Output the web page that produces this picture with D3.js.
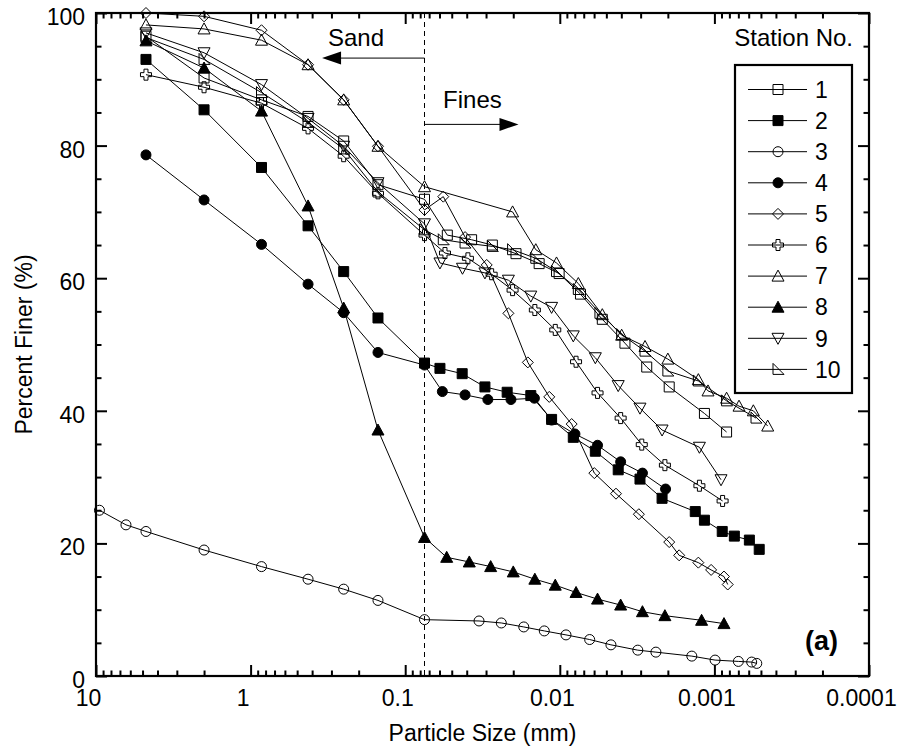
<!DOCTYPE html>
<html>
<head>
<meta charset="utf-8">
<script src="https://cdn.jsdelivr.net/npm/d3@7"></script>
<style>
  body { margin: 0; background: #fff; }
  svg text { font-family: Arial, "Liberation Sans", Helvetica, sans-serif; fill: #000; }
</style>
</head>
<body>
<div id="chart"></div>
<script>
// sieve sizes (mm) shared by every station, then hydrometer readings per station
const sieve = [4.75, 2.0, 0.85, 0.425, 0.25, 0.15, 0.075];

const size1 = [...sieve, 0.0534, 0.0372, 0.0273, 0.0192, 0.0136, 0.0101, 0.00735, 0.00531, 0.00379, 0.00274, 0.00196, 0.00116, 0.000834];
const finer1 = [96.5, 90.2, 86.9, 84.4, 80.7, 74.1, 71.9, 66.5, 65.8, 65.0, 63.7, 62.2, 60.7, 57.6, 53.8, 50.2, 46.6, 43.6, 39.6, 36.8];

const size2 = [...sieve, 0.0596, 0.0428, 0.0305, 0.0219, 0.0154, 0.0113, 0.00818, 0.00589, 0.00419, 0.00303, 0.00218, 0.00133, 0.00116, 0.00089, 0.000743, 0.000594, 0.000513];
const finer2 = [93.0, 85.4, 76.7, 67.9, 61.0, 54.0, 47.2, 46.4, 45.6, 43.6, 42.8, 42.3, 38.7, 36.0, 33.9, 31.1, 29.7, 26.8, 24.8, 23.5, 21.8, 21.1, 20.5, 19.1];

const size3 = [9.5, 6.4, ...sieve, 0.0333, 0.0239, 0.0171, 0.0126, 0.00912, 0.00641, 0.00467, 0.00313, 0.00239, 0.0014, 0.00099, 0.0007, 0.000574, 0.000532];
const finer3 = [25.0, 22.8, 21.8, 19.0, 16.5, 14.6, 13.1, 11.4, 8.5, 8.3, 8.0, 7.4, 6.8, 6.2, 5.5, 4.7, 3.9, 3.6, 3.0, 2.4, 2.2, 2.1, 1.9];

const size4 = [...sieve, 0.0575, 0.041, 0.0292, 0.0207, 0.0146, 0.0113, 0.00798, 0.0057, 0.00404, 0.00292, 0.00207];
const finer4 = [78.6, 71.8, 65.1, 59.1, 54.8, 48.8, 46.9, 42.9, 42.4, 41.7, 41.7, 41.9, 38.6, 36.5, 34.8, 32.3, 30.6, 28.2];

const size5 = [...sieve, 0.0567, 0.041, 0.0297, 0.0215, 0.0161, 0.0117, 0.00838, 0.00598, 0.00433, 0.00308, 0.00196, 0.00169, 0.00127, 0.00105, 0.000867, 0.00082];
const finer5 = [100, 99.5, 97.4, 92.2, 86.9, 79.9, 70.3, 72.3, 66.2, 62.0, 54.7, 47.3, 42.1, 38.0, 30.6, 27.5, 24.4, 20.2, 18.2, 17.1, 16.0, 15.0, 13.8];

const size6 = [...sieve, 0.0553, 0.0393, 0.0276, 0.0202, 0.0145, 0.0107, 0.00785, 0.0057, 0.00404, 0.00295, 0.00209, 0.00125, 0.000885];
const finer6 = [90.7, 88.8, 86.4, 82.6, 78.4, 72.8, 66.5, 63.8, 63.0, 60.6, 58.2, 55.2, 52.2, 47.4, 42.7, 38.9, 34.9, 31.8, 28.7, 26.4];

const size7 = [...sieve, 0.0202, 0.0143, 0.0105, 0.00759, 0.00531, 0.00398, 0.00281, 0.002, 0.00127, 0.0011, 0.000834, 0.000693, 0.00056, 0.000452];
const finer7 = [98.2, 97.6, 95.9, 92.2, 86.9, 79.9, 73.8, 70.0, 64.3, 62.3, 59.2, 54.5, 51.4, 49.7, 47.8, 44.7, 43.0, 41.9, 40.7, 40.0, 37.7];

const size8 = [...sieve, 0.0539, 0.0385, 0.028, 0.02, 0.0145, 0.0107, 0.00785, 0.0057, 0.00404, 0.00292, 0.00209, 0.00121, 0.000867];
const finer8 = [95.8, 91.7, 85.2, 70.9, 55.5, 37.1, 20.9, 17.9, 17.2, 16.5, 15.7, 14.6, 13.7, 12.6, 11.6, 10.7, 9.7, 9.1, 8.4, 7.9];

const size9 = [...sieve, 0.0596, 0.0426, 0.0305, 0.0215, 0.0154, 0.0113, 0.00818, 0.00589, 0.00419, 0.00303, 0.00218, 0.00125, 0.000906];
const finer9 = [97.0, 94.0, 89.2, 84.1, 79.9, 74.4, 68.2, 62.3, 61.5, 60.8, 59.7, 57.3, 55.6, 51.3, 48.0, 43.8, 40.4, 37.1, 34.5, 29.6];

const size10 = [...sieve, 0.0567, 0.041, 0.0273, 0.0202, 0.0143, 0.0105, 0.00759, 0.0055, 0.00398, 0.00281, 0.002, 0.00127, 0.000834, 0.000538];
const finer10 = [96.3, 93.0, 88.0, 83.5, 79.5, 73.0, 67.3, 65.8, 65.3, 64.8, 64.3, 63.0, 61.0, 58.3, 54.7, 51.5, 49.0, 46.0, 44.5, 41.5, 38.9];

const stationNames = ["1", "2", "3", "4", "5", "6", "7", "8", "9", "10"];
const xTickValues = [10, 1, 0.1, 0.01, 0.001, 0.0001];
const xTickLabels = ["10", "1", "0.1", "0.01", "0.001", "0.0001"];
const yTickValues = [0, 20, 40, 60, 80, 100];

const sizes = [size1, size2, size3, size4, size5, size6, size7, size8, size9, size10];
const finers = [finer1, finer2, finer3, finer4, finer5, finer6, finer7, finer8, finer9, finer10];

// marker shapes, centred on 0,0
const shapes = {
  square:   "M-5,-5H5V5H-5Z",
  circle:   "M5,0A5,5 0 1,1 -5,0A5,5 0 1,1 5,0Z",
  diamond:  "M0,-5.5L5.5,0L0,5.5L-5.5,0Z",
  cross:    "M-2,-5.5H2V-2H5.5V2H2V5.5H-2V2H-5.5V-2H-2Z",
  triUp:    "M0,-6L6,5H-6Z",
  triDown:  "M0,6L6,-5H-6Z",
  triRight: "M-5,-6V5H6Z"
};
const markers = [
  {shape: "square", fill: "none"},
  {shape: "square", fill: "#000"},
  {shape: "circle", fill: "none"},
  {shape: "circle", fill: "#000"},
  {shape: "diamond", fill: "none"},
  {shape: "cross", fill: "none"},
  {shape: "triUp", fill: "none"},
  {shape: "triUp", fill: "#000"},
  {shape: "triDown", fill: "none"},
  {shape: "triRight", fill: "none"}
];

const width = 902, height = 755;
const margin = {top: 13, right: 33, bottom: 79, left: 96};

const svg = d3.select("#chart").append("svg")
    .attr("width", width)
    .attr("height", height);

const x = d3.scaleLog()
    .domain([10, 0.0001])
    .range([margin.left, width - margin.right]);
const y = d3.scaleLinear()
    .domain([0, 100])
    .range([height - margin.bottom, margin.top]);

// minor tick values on the log axis (2..9 in each decade)
const xMinor = [];
for (let e = -4; e < 1; e++) {
  for (let m = 2; m <= 9; m++) xMinor.push(m * Math.pow(10, e));
}
const yMinor = d3.range(0, 101, 5).filter(v => v % 20 !== 0);

const x0 = x.range()[0], x1 = x.range()[1];
const y0 = y.range()[0], y1 = y.range()[1];

// axes: ticks pointing inward on all four sides
function styleAxis(g, w) {
  g.selectAll("path").remove();
  g.selectAll(".tick line").attr("stroke", "#000").attr("stroke-width", w);
}

svg.append("g").attr("transform", `translate(0,${y0})`)
    .call(d3.axisBottom(x).tickValues(xTickValues).tickSize(-11).tickPadding(14)
      .tickFormat((d, i) => xTickLabels[i]))
    .call(g => styleAxis(g, 2))
    .call(g => g.selectAll("text").attr("font-size", 23).attr("dx", -8)
      .attr("font-family", "Arial, 'Liberation Sans', sans-serif"));
svg.append("g").attr("transform", `translate(0,${y0})`)
    .call(d3.axisBottom(x).tickValues(xMinor).tickSize(-5.5).tickFormat(""))
    .call(g => styleAxis(g, 2));
svg.append("g").attr("transform", `translate(0,${y1})`)
    .call(d3.axisTop(x).tickValues(xTickValues).tickSize(-11).tickFormat(""))
    .call(g => styleAxis(g, 2));
svg.append("g").attr("transform", `translate(0,${y1})`)
    .call(d3.axisTop(x).tickValues(xMinor).tickSize(-5.5).tickFormat(""))
    .call(g => styleAxis(g, 2));

svg.append("g").attr("transform", `translate(${x0},0)`)
    .call(d3.axisLeft(y).tickValues(yTickValues).tickSize(-11).tickPadding(11))
    .call(g => styleAxis(g, 2))
    .call(g => g.selectAll("text").attr("font-size", 23).attr("dy", "0.5em")
      .attr("font-family", "Arial, 'Liberation Sans', sans-serif"));
svg.append("g").attr("transform", `translate(${x0},0)`)
    .call(d3.axisLeft(y).tickValues(yMinor).tickSize(-5.5).tickFormat(""))
    .call(g => styleAxis(g, 2));
svg.append("g").attr("transform", `translate(${x1},0)`)
    .call(d3.axisRight(y).tickValues(yTickValues).tickSize(-11).tickFormat(""))
    .call(g => styleAxis(g, 2));
svg.append("g").attr("transform", `translate(${x1},0)`)
    .call(d3.axisRight(y).tickValues(yMinor).tickSize(-5.5).tickFormat(""))
    .call(g => styleAxis(g, 2));

// frame
svg.append("rect")
    .attr("x", x0).attr("y", y1)
    .attr("width", x1 - x0).attr("height", y0 - y1)
    .attr("fill", "none").attr("stroke", "#000").attr("stroke-width", 2.2);

// axis titles
svg.append("text")
    .attr("x", (x0 + x1) / 2).attr("y", 741)
    .attr("text-anchor", "middle").attr("font-size", 23)
    .text("Particle Size (mm)");
svg.append("text")
    .attr("transform", `translate(32,${(y0 + y1) / 2}) rotate(-90)`)
    .attr("text-anchor", "middle").attr("font-size", 23)
    .text("Percent Finer (%)");

// sand / fines boundary at the No. 200 sieve
svg.append("line")
    .attr("x1", x(0.075)).attr("x2", x(0.075))
    .attr("y1", y1).attr("y2", y0)
    .attr("stroke", "#000").attr("stroke-width", 1)
    .attr("stroke-dasharray", "5,4");

// horizontal arrow from the boundary to a size, head filled
function arrow(xFrom, xTo, yv) {
  const start = x(xFrom), tip = x(xTo), yy = y(yv);
  const dir = tip > start ? 1 : -1;
  svg.append("line")
      .attr("x1", start).attr("x2", tip - dir * 10)
      .attr("y1", yy).attr("y2", yy)
      .attr("stroke", "#000").attr("stroke-width", 1);
  svg.append("path")
      .attr("d", `M${tip},${yy}L${tip - dir * 19},${yy - 6.5}L${tip - dir * 19},${yy + 6.5}Z`)
      .attr("fill", "#000");
}
arrow(0.075, 0.345, 93.2);
arrow(0.075, 0.0185, 83.2);
svg.append("text").attr("x", x(0.316)).attr("y", y(95.0))
    .attr("font-size", 24).text("Sand");
svg.append("text").attr("x", x(0.0569)).attr("y", y(85.6))
    .attr("font-size", 24).text("Fines");

// station curves
const line = d3.line().x(d => x(d[0])).y(d => y(d[1]));

sizes.forEach((s, i) => {
  const pts = s.map((v, j) => [v, finers[i][j]]);
  const g = svg.append("g");
  g.append("path")
      .datum(pts)
      .attr("fill", "none")
      .attr("stroke", "#000")
      .attr("stroke-width", 1)
      .attr("d", line);
  g.selectAll("path.mk")
    .data(pts)
    .join("path")
      .attr("class", "mk")
      .attr("transform", d => `translate(${x(d[0])},${y(d[1])})`)
      .attr("d", shapes[markers[i].shape])
      .attr("fill", markers[i].fill)
      .attr("stroke", "#000")
      .attr("stroke-width", 1);
});

// legend
svg.append("text")
    .attr("x", 853).attr("y", 46)
    .attr("text-anchor", "end").attr("font-size", 24)
    .text("Station No.");
svg.append("rect")
    .attr("x", 735).attr("y", 65)
    .attr("width", 117).attr("height", 328)
    .attr("fill", "#fff").attr("stroke", "#000").attr("stroke-width", 2.2);

const leg = svg.append("g").selectAll("g")
  .data(stationNames)
  .join("g")
    .attr("transform", (d, i) => `translate(0,${89.5 + i * 31.1})`);
leg.append("line")
    .attr("x1", 748).attr("x2", 807)
    .attr("stroke", "#000").attr("stroke-width", 1);
leg.append("path")
    .attr("transform", "translate(778,0)")
    .attr("d", (d, i) => shapes[markers[i].shape])
    .attr("fill", (d, i) => markers[i].fill)
    .attr("stroke", "#000").attr("stroke-width", 1);
leg.append("text")
    .attr("x", 815).attr("dy", "0.36em")
    .attr("font-size", 23)
    .text(d => d);

svg.append("text")
    .attr("x", 805).attr("y", 650)
    .attr("font-size", 27).attr("font-weight", "bold")
    .text("(a)");
</script>
</body>
</html>
